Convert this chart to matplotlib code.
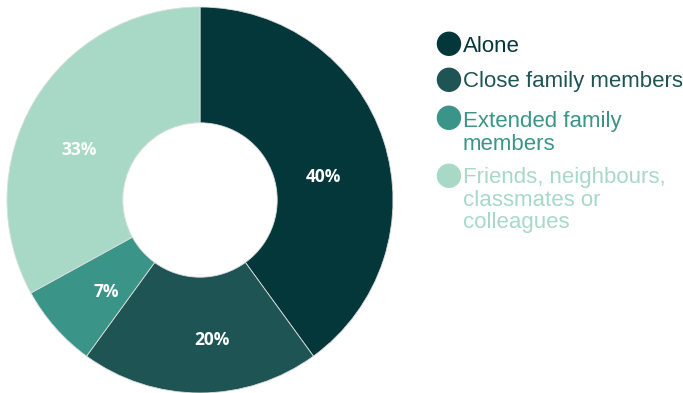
import matplotlib
matplotlib.use('Agg')
from matplotlib import pyplot as plt
from matplotlib.transforms import offset_copy

categories = ['Alone', 'Close family members', 'Extended family\nmembers',
              'Friends, neighbours,\nclassmates or\ncolleagues']
shares = [40, 20, 7, 33]
colors = ['#03373A', '#1E5453', '#3A9487', '#A7D9C6']

W, H = 683, 393
fig = plt.figure(figsize=(W / 100, H / 100), dpi=100)

# donut
ax = fig.add_axes([7 / W, 0, 386 / W, 386 / H])
wedges, texts = ax.pie(
    shares, colors=colors, startangle=90, counterclock=False,
    radius=1.0, wedgeprops=dict(width=0.6, edgecolor='#dddddd', linewidth=0.6),
    labels=['%d%%' % s for s in shares], labeldistance=0.69,
    textprops=dict(color='white', fontsize=12.5, fontweight='bold', family='Open Sans',
                   ha='center', va='center'),
)
# nudge labels the way the original placed them (pixels)
nudges = [(-3, -18), (12, -7), (6, -4), (-6, -18)]
for t, (dx, dy) in zip(texts, nudges):
    t.set_transform(offset_copy(ax.transData, fig, x=dx, y=dy, units='dots'))
ax.set_xlim(-1, 1)
ax.set_ylim(-1, 1)
ax.set_aspect('equal')
ax.axis('off')

# legend, drawn by hand
marker_y = [44, 79, 118, 175]
text_top = [36, 71, 111, 167]
for lab, c, my, ty in zip(categories, colors, marker_y, text_top):
    fig.text(448 / W, 1 - my / H, '\u25CF', color=c, fontsize=23, ha='center', va='center',
             family='DejaVu Sans')
    fig.text(463 / W, 1 - ty / H, lab, color=c, fontsize=16, ha='left', va='top',
             family='Liberation Sans', linespacing=1.1)

fig.savefig('out.png', dpi=100, facecolor='white')
